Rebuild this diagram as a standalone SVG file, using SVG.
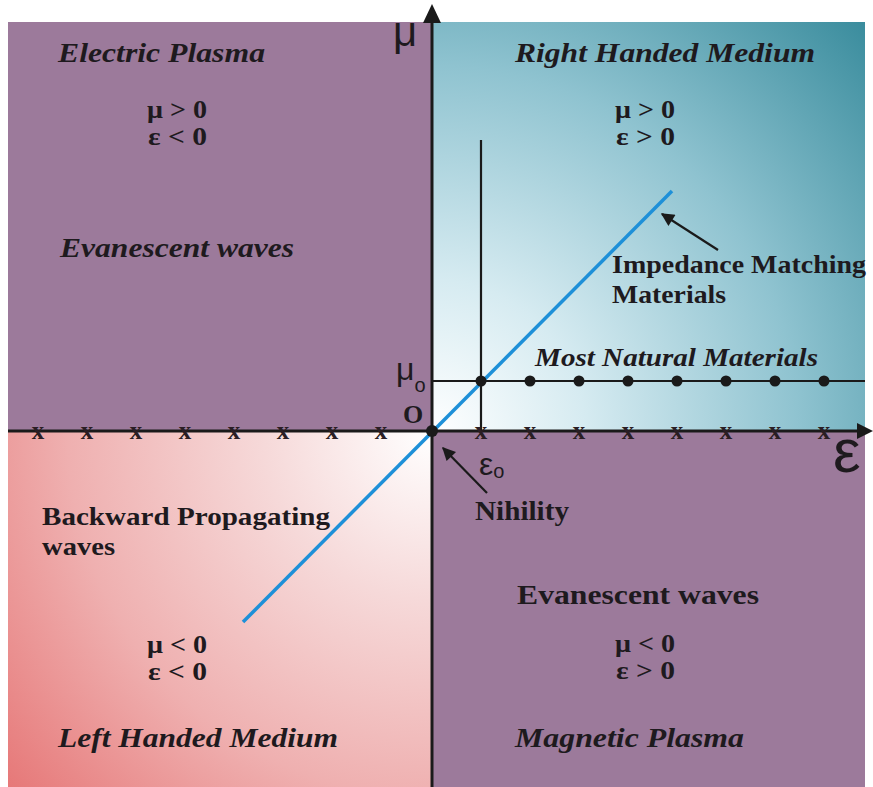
<svg xmlns="http://www.w3.org/2000/svg" width="873" height="787" viewBox="0 0 873 787">
<style>
.q{font-family:"Liberation Serif","Times New Roman",serif;font-weight:bold;fill:#1e1a1e}
.it{font-style:italic}
.s{font-family:"Liberation Sans",Arial,sans-serif;fill:#1e1a1e}
.xm{font-family:"Liberation Serif",serif;font-weight:bold;font-size:25px;fill:#2a1e24;text-anchor:middle}
.ax{stroke:#1a1a1a;stroke-width:3;fill:none}
.thin{stroke:#1a1a1a;stroke-width:2.2;fill:none}
.dot{fill:#1a1a1a}
</style>
<defs>
<radialGradient id="gRH" gradientUnits="userSpaceOnUse" cx="432" cy="432" r="610">
<stop offset="0" stop-color="#ffffff"/>
<stop offset="0.25" stop-color="#d6ebf1"/>
<stop offset="0.6" stop-color="#8fc3d0"/>
<stop offset="1" stop-color="#35899a"/>
</radialGradient>
<radialGradient id="gLH" gradientUnits="userSpaceOnUse" cx="432" cy="432" r="560">
<stop offset="0" stop-color="#ffffff"/>
<stop offset="0.3" stop-color="#f6d9d9"/>
<stop offset="0.65" stop-color="#efb0b0"/>
<stop offset="1" stop-color="#e67676"/>
</radialGradient>
<marker id="ah" viewBox="0 0 10 10" refX="9" refY="5" markerWidth="7" markerHeight="6" orient="auto" markerUnits="strokeWidth">
<path d="M0,0 L10,5 L0,10 z" fill="#1a1a1a"/>
</marker>
</defs>
<rect width="873" height="787" fill="#ffffff"/>
<g id="quadrants">
<rect id="q-electric" x="8" y="22" width="424" height="410" fill="#9c7a9b"/>
<rect id="q-right" x="432" y="22" width="433" height="410" fill="url(#gRH)"/>
<rect id="q-left" x="8" y="432" width="424" height="355" fill="url(#gLH)"/>
<rect id="q-magnetic" x="432" y="432" width="433" height="355" fill="#9c7a9b"/>
</g>
<g id="connectors">
<line class="ax" x1="8" y1="431" x2="860" y2="431"/>
<path d="M873,431 L857,423 L857,439 z" fill="#1a1a1a"/>
<line class="ax" x1="432" y1="20" x2="432" y2="787"/>
<path d="M432,4 L423,23 L441,23 z" fill="#1a1a1a"/>
<line class="thin" x1="481" y1="140" x2="481" y2="431"/>
<line class="thin" x1="432" y1="381" x2="865" y2="381"/>
<line x1="243" y1="622" x2="672" y2="191" stroke="#1e90d8" stroke-width="3.5"/>
<line x1="487" y1="493" x2="443" y2="448" stroke="#1a1a1a" stroke-width="2.2" marker-end="url(#ah)"/>
<line x1="718" y1="250" x2="662" y2="214" stroke="#1a1a1a" stroke-width="2.2" marker-end="url(#ah)"/>
<circle class="dot" cx="432" cy="431" r="6"/>
<circle class="dot" cx="481" cy="381" r="5.5"/>
<circle class="dot" cx="530" cy="381" r="5.5"/>
<circle class="dot" cx="579" cy="381" r="5.5"/>
<circle class="dot" cx="628" cy="381" r="5.5"/>
<circle class="dot" cx="677" cy="381" r="5.5"/>
<circle class="dot" cx="726" cy="381" r="5.5"/>
<circle class="dot" cx="775" cy="381" r="5.5"/>
<circle class="dot" cx="824" cy="381" r="5.5"/>
</g>
<g id="xmarks">
<text class="xm" x="38" y="439">x</text>
<text class="xm" x="87" y="439">x</text>
<text class="xm" x="136" y="439">x</text>
<text class="xm" x="185" y="439">x</text>
<text class="xm" x="234" y="439">x</text>
<text class="xm" x="283" y="439">x</text>
<text class="xm" x="332" y="439">x</text>
<text class="xm" x="381" y="439">x</text>
<text class="xm" x="481" y="439">x</text>
<text class="xm" x="530" y="439">x</text>
<text class="xm" x="579" y="439">x</text>
<text class="xm" x="628" y="439">x</text>
<text class="xm" x="677" y="439">x</text>
<text class="xm" x="726" y="439">x</text>
<text class="xm" x="775" y="439">x</text>
<text class="xm" x="824" y="439">x</text>
</g>
<g id="axis-labels">
<text class="s" x="393" y="46" font-size="42">μ</text>
<text class="s" x="833" y="472" font-size="62">ε</text>
<text class="s" x="396" y="380" font-size="32">μ<tspan font-size="20" dy="12">o</tspan></text>
<text class="q" x="403" y="423" font-size="26">O</text>
<text class="s" x="479" y="475" font-size="32">ε<tspan font-size="20" dy="3">o</tspan></text>
</g>
<g id="electric-plasma">
<text class="q it" x="58" y="62" font-size="28" textLength="207" lengthAdjust="spacingAndGlyphs">Electric Plasma</text>
<text class="q" x="147" y="118" font-size="26" textLength="60" lengthAdjust="spacingAndGlyphs">μ &gt; 0</text>
<text class="q" x="148" y="145" font-size="26" textLength="59" lengthAdjust="spacingAndGlyphs">ε &lt; 0</text>
<text class="q it" x="60" y="257" font-size="28" textLength="234" lengthAdjust="spacingAndGlyphs">Evanescent waves</text>
</g>
<g id="right-handed">
<text class="q it" x="515" y="62" font-size="28" textLength="300" lengthAdjust="spacingAndGlyphs">Right Handed Medium</text>
<text class="q" x="615" y="118" font-size="26" textLength="60" lengthAdjust="spacingAndGlyphs">μ &gt; 0</text>
<text class="q" x="616" y="145" font-size="26" textLength="59" lengthAdjust="spacingAndGlyphs">ε &gt; 0</text>
<text class="q" x="612" y="273" font-size="25" textLength="254" lengthAdjust="spacingAndGlyphs">Impedance Matching</text>
<text class="q" x="612" y="303" font-size="25" textLength="114" lengthAdjust="spacingAndGlyphs">Materials</text>
<text class="q it" x="535" y="366" font-size="26" textLength="283" lengthAdjust="spacingAndGlyphs">Most Natural Materials</text>
</g>
<g id="left-handed">
<text class="q" x="42" y="525" font-size="26" textLength="288" lengthAdjust="spacingAndGlyphs">Backward Propagating</text>
<text class="q" x="42" y="555" font-size="26" textLength="73" lengthAdjust="spacingAndGlyphs">waves</text>
<text class="q" x="147" y="653" font-size="26" textLength="60" lengthAdjust="spacingAndGlyphs">μ &lt; 0</text>
<text class="q" x="148" y="680" font-size="26" textLength="59" lengthAdjust="spacingAndGlyphs">ε &lt; 0</text>
<text class="q it" x="58" y="747" font-size="28" textLength="280" lengthAdjust="spacingAndGlyphs">Left Handed Medium</text>
</g>
<g id="magnetic-plasma">
<text class="q" x="475" y="520" font-size="27" textLength="94" lengthAdjust="spacingAndGlyphs">Nihility</text>
<text class="q" x="517" y="604" font-size="27" textLength="242" lengthAdjust="spacingAndGlyphs">Evanescent waves</text>
<text class="q" x="615" y="652" font-size="26" textLength="60" lengthAdjust="spacingAndGlyphs">μ &lt; 0</text>
<text class="q" x="616" y="679" font-size="26" textLength="59" lengthAdjust="spacingAndGlyphs">ε &gt; 0</text>
<text class="q it" x="515" y="747" font-size="28" textLength="229" lengthAdjust="spacingAndGlyphs">Magnetic Plasma</text>
</g>
</svg>
